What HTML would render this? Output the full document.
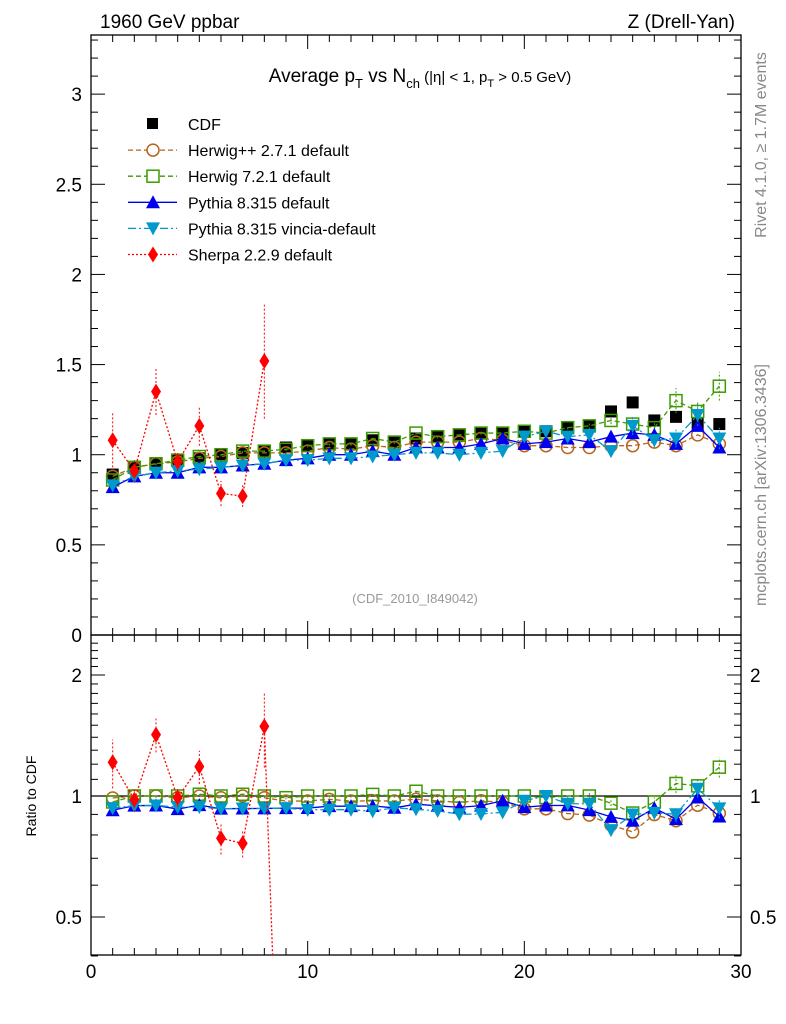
<!DOCTYPE html>
<html><head><meta charset="utf-8"><style>
html,body{margin:0;background:#fff;overflow:hidden;width:786px;height:1024px}
svg{display:block;font-family:"Liberation Sans",sans-serif}
</style></head><body>
<svg id="chart" width="786" height="1024" viewBox="0 0 786 1024">
<text x="100" y="28" font-size="19">1960 GeV ppbar</text>
<text x="735" y="28" font-size="19" text-anchor="end">Z (Drell-Yan)</text>
<text x="420" y="82" font-size="19" text-anchor="middle">Average p<tspan font-size="13" dy="6">T</tspan><tspan dy="-6"> vs N</tspan><tspan font-size="13" dy="6">ch</tspan><tspan dy="-6" font-size="15"> (|η| &lt; 1, p</tspan><tspan font-size="11" dy="5">T</tspan><tspan dy="-5" font-size="15"> &gt; 0.5 GeV)</tspan></text>
<text x="415" y="603" font-size="13" fill="#999" text-anchor="middle">(CDF_2010_I849042)</text>
<text transform="translate(766,145) rotate(-90)" font-size="16" fill="#888" text-anchor="middle">Rivet 4.1.0, ≥ 1.7M events</text>
<text transform="translate(766,485) rotate(-90)" font-size="16" fill="#888" text-anchor="middle">mcplots.cern.ch [arXiv:1306.3436]</text>
<text transform="translate(36,796) rotate(-90)" font-size="14" text-anchor="middle">Ratio to CDF</text>
<g id="axes"></g>
<g id="marks"></g>
<g id="legend"></g>
</svg>
<script>
const nch = [1,2,3,4,5,6,7,8,9,10,11,12,13,14,15,16,17,18,19,20,21,22,23,24,25,26,27,28,29];
const cdf = [0.89,0.93,0.95,0.97,0.98,1.00,1.01,1.02,1.04,1.05,1.06,1.06,1.08,1.07,1.09,1.10,1.11,1.12,1.12,1.13,1.13,1.15,1.16,1.24,1.29,1.19,1.21,1.17,1.17];
const herwigpp = [0.88,0.93,0.95,0.96,0.98,0.99,1.01,1.01,1.01,1.02,1.04,1.03,1.05,1.04,1.07,1.07,1.07,1.09,1.08,1.05,1.05,1.04,1.04,1.05,1.05,1.07,1.05,1.11,1.06];
const herwig7 = [0.86,0.93,0.95,0.97,0.99,1.00,1.02,1.02,1.03,1.05,1.06,1.06,1.09,1.07,1.12,1.10,1.11,1.12,1.12,1.13,1.12,1.15,1.16,1.19,1.17,1.15,1.30,1.24,1.38];
const herwig7Err = [0.01,0.01,0.01,0.01,0.01,0.01,0.01,0.01,0.01,0.01,0.01,0.01,0.01,0.01,0.01,0.01,0.01,0.01,0.01,0.01,0.01,0.01,0.02,0.02,0.03,0.03,0.07,0.05,0.08];
const pythia = [0.82,0.88,0.90,0.90,0.93,0.93,0.94,0.95,0.97,0.98,1.00,1.00,1.02,1.00,1.04,1.04,1.04,1.06,1.09,1.06,1.07,1.09,1.07,1.10,1.12,1.11,1.06,1.16,1.04];
const vincia = [0.83,0.88,0.90,0.91,0.92,0.93,0.94,0.95,0.97,0.97,0.98,0.98,0.99,1.00,1.01,1.01,1.00,1.01,1.02,1.10,1.13,1.10,1.11,1.02,1.16,1.08,1.09,1.22,1.09];
const vinciaErr = [0.01,0.01,0.01,0.01,0.01,0.01,0.01,0.01,0.01,0.01,0.01,0.01,0.01,0.01,0.01,0.01,0.01,0.01,0.01,0.02,0.02,0.02,0.02,0.03,0.05,0.04,0.05,0.06,0.06];
const sherpaN = [1,2,3,4,5,6,7,8,9];
const sherpa = [1.08,0.91,1.35,0.96,1.16,0.785,0.77,1.52,0.05];
const sherpaErr = [0.15,0.06,0.13,0.05,0.11,0.07,0.06,0.32,0];
const yTicksMain = [0,0.5,1,1.5,2,2.5,3];
const yTicksRatio = [0.5,1,2];
const xTicks = [0,10,20,30];

const NS="http://www.w3.org/2000/svg";
const L=91,R=741,T=35,MB=635,RB=955;
const X=v=>L+(v-0)*(R-L)/30;
const Y=v=>MB-v*(MB-T)/3.328;
const YR=r=>796-Math.log2(r)*121;
function mk(tag,attrs,parent){const e=document.createElementNS(NS,tag);for(const k in attrs)e.setAttribute(k,attrs[k]);parent.appendChild(e);return e;}
const ax=document.getElementById('axes'), mg=document.getElementById('marks'), lg=document.getElementById('legend');

let f1=mk('rect',{x:L,y:T,width:R-L,height:MB-T,fill:'none',stroke:'#000','stroke-width':1.3},ax);


let f2=mk('rect',{x:L,y:MB,width:R-L,height:RB-MB,fill:'none',stroke:'#000','stroke-width':1.3},ax);


for(let i=0;i<=30;i++){const x=X(i),len=i%10===0?14:7;
 for(const [y0,d] of [[MB,-1],[T,1],[RB,-1],[MB,1]]) mk('line',{x1:x,x2:x,y1:y0,y2:y0+d*len,stroke:'#000'},ax);}
xTicks.forEach(v=>{const t=mk('text',{x:X(v),y:978,'font-size':19,'text-anchor':'middle'},ax);t.textContent=v;
 
 });
for(let i=0;i<=33;i++){const v=i/10,y=Y(v),len=i%5===0?14:7;
 mk('line',{x1:L,x2:L+len,y1:y,y2:y,stroke:'#000'},ax);mk('line',{x1:R,x2:R-len,y1:y,y2:y,stroke:'#000'},ax);}
yTicksMain.forEach(v=>{const t=mk('text',{x:82,y:Y(v)+7,'font-size':19,'text-anchor':'end'},ax);t.textContent=v;
 
 });
[0.4,0.5,0.6,0.7,0.8,0.9,1,2].forEach(r=>{const y=YR(r),len=[0.5,1,2].includes(r)?14:7;
 mk('line',{x1:L,x2:L+len,y1:y,y2:y,stroke:'#000'},ax);mk('line',{x1:R,x2:R-len,y1:y,y2:y,stroke:'#000'},ax);});
for(let r=1.1;r<2.5;r+=0.1){if(Math.abs(r-2)<0.01)continue;const y=YR(r);
 mk('line',{x1:L,x2:L+7,y1:y,y2:y,stroke:'#000'},ax);mk('line',{x1:R,x2:R-7,y1:y,y2:y,stroke:'#000'},ax);}
yTicksRatio.forEach(v=>{for(const [x,a] of [[82,'end'],[750,'start']]){const t=mk('text',{x:x,y:YR(v)+7,'font-size':19,'text-anchor':a},ax);t.textContent=v;
 
 }});
mk('line',{x1:L,x2:R,y1:YR(1),y2:YR(1),stroke:'#000','stroke-width':1.3},ax);

const cpMain=mk('clipPath',{id:'cm'},mg);mk('rect',{x:L,y:T,width:R-L,height:MB-T},cpMain);
const cpR=mk('clipPath',{id:'cr'},mg);mk('rect',{x:L,y:MB,width:R-L,height:RB-MB},cpR);
const gMain=mk('g',{'clip-path':'url(#cm)'},mg), gRat=mk('g',{'clip-path':'url(#cr)'},mg);

function marker(type,x,y,col,g){
 if(type==='sq') return mk('rect',{x:x-6,y:y-6,width:12,height:12,fill:'#000'},g);
 if(type==='osq') return mk('rect',{x:x-6,y:y-6,width:12,height:12,fill:'none',stroke:col,'stroke-width':1.5},g);
 if(type==='oc') return mk('circle',{cx:x,cy:y,r:6,fill:'none',stroke:col,'stroke-width':1.5},g);
 if(type==='tu') return mk('path',{d:`M${x-7},${y+6}L${x+7},${y+6}L${x},${y-7}Z`,fill:col},g);
 if(type==='td') return mk('path',{d:`M${x-7},${y-6}L${x+7},${y-6}L${x},${y+7}Z`,fill:col},g);
 if(type==='dm') return mk('path',{d:`M${x},${y-8}L${x+5},${y}L${x},${y+8}L${x-5},${y}Z`,fill:col},g);
}
// clip polyline points to y <= lim (truncate segment at boundary)
function clipPts(pts,lim){const out=[];
 for(let i=0;i<pts.length;i++){const p=pts[i];
  if(p[1]<=lim){out.push(p);continue;}
  const q=pts[i-1];
  if(q && q[1]<=lim){const t=(lim-q[1])/(p[1]-q[1]);out.push([q[0]+t*(p[0]-q[0]),lim]);}
  break;}
 return out;}
const series=[
 {name:'herwigpp',xs:nch,v:herwigpp,e:null,col:'#b5651d',m:'oc',dash:'5,3',label:'Herwig++ 2.7.1 default'},
 {name:'herwig7',xs:nch,v:herwig7,e:herwig7Err,col:'#3d9a00',m:'osq',dash:'5,3',label:'Herwig 7.2.1 default'},
 {name:'pythia',xs:nch,v:pythia,e:null,col:'#0000ee',m:'tu',dash:'',label:'Pythia 8.315 default'},
 {name:'vincia',xs:nch,v:vincia,e:vinciaErr,col:'#0099cc',m:'td',dash:'8,3,2,3',label:'Pythia 8.315 vincia-default'},
 {name:'sherpa',xs:sherpaN,v:sherpa,e:sherpaErr,col:'#ff0000',m:'dm',dash:'2,2',label:'Sherpa 2.2.9 default'}
];
nch.forEach((n,i)=>{const p=marker('sq',X(n),Y(cdf[i]),'#000',gMain);
 
 });
series.forEach(s=>{
 const main=s.xs.map((n,i)=>[X(n),Y(s.v[i])]).filter((p,i)=>s.v[i]>0.2);
 const rat=clipPts(s.xs.map((n,i)=>[X(n),YR(s.v[i]/cdf[i])]),RB+2);
 const l1=mk('polyline',{points:main.join(' '),fill:'none',stroke:s.col,'stroke-width':1.3,'stroke-dasharray':s.dash},gMain);
 
 
 const l2=mk('polyline',{points:rat.join(' '),fill:'none',stroke:s.col,'stroke-width':1.3,'stroke-dasharray':s.dash},gRat);
 
 
 s.xs.forEach((n,i)=>{
  const ry=YR(s.v[i]/cdf[i]);
  if(s.e && s.e[i]>0){const e=s.e[i];
   if(s.v[i]>0.2) mk('line',{x1:X(n),x2:X(n),y1:Y(s.v[i]-e),y2:Y(s.v[i]+e),stroke:s.col,'stroke-dasharray':'2,2'},gMain);
   mk('line',{x1:X(n),x2:X(n),y1:Math.min(YR((s.v[i]-e)/cdf[i]),RB),y2:YR((s.v[i]+e)/cdf[i]),stroke:s.col,'stroke-dasharray':'2,2'},gRat);}
  if(s.v[i]>0.2){const p=marker(s.m,X(n),Y(s.v[i]),s.col,gMain);
   
   }
  if(ry<RB){const q=marker(s.m,X(n),ry,s.col,gRat);
   
   }
 });
});
const rows=[{label:'CDF',m:'sq',col:'#000',dash:null}].concat(series.map(s=>({label:s.label,m:s.m,col:s.col,dash:s.dash})));
rows.forEach((r,i)=>{const y=124+i*26.1;
 const g=mk('g',{},lg);
 
 
 if(r.dash!==null) mk('line',{x1:128,x2:177,y1:y,y2:y,stroke:r.col,'stroke-width':1.3,'stroke-dasharray':r.dash},g);
 if(r.m==='sq') mk('rect',{x:147,y:y-6,width:11,height:11,fill:'#000'},g); else marker(r.m,153,y,r.col,g).setAttribute('fill',r.m[0]==='o'?'#fff':r.col);
 const t=mk('text',{x:188,y:y+6,'font-size':16},g);t.textContent=r.label;});
</script>
</body></html>
